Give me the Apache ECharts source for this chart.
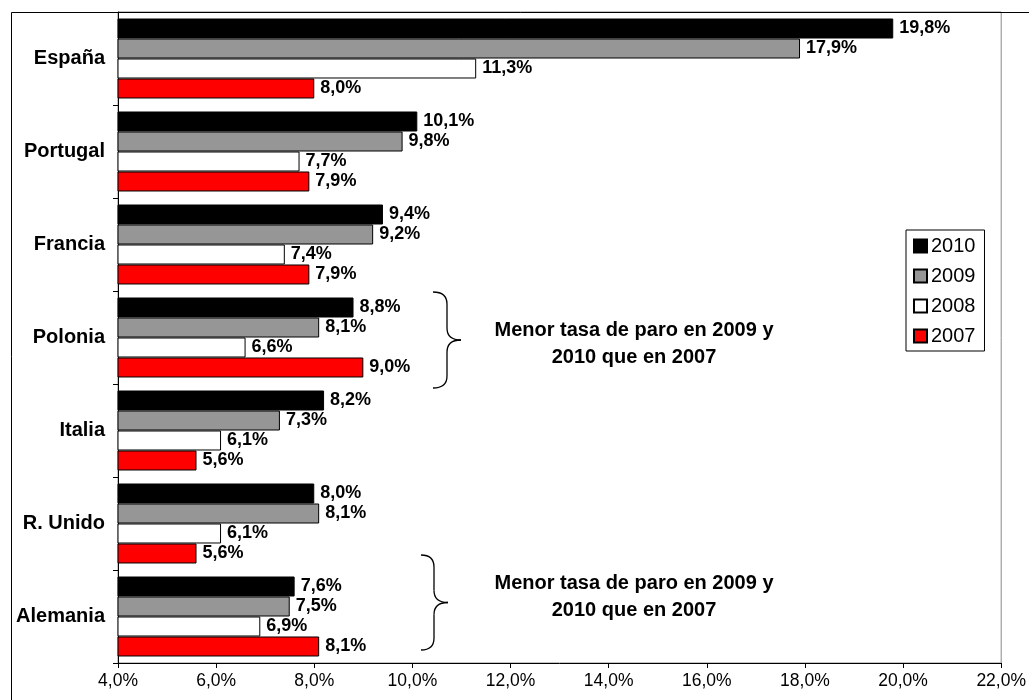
<!DOCTYPE html>
<html>
<head>
<meta charset="utf-8">
<script src="https://cdn.jsdelivr.net/npm/echarts@6/dist/echarts.min.js"></script>
<style>
  html, body { margin: 0; padding: 0; background: #fff; }
  #chart { width: 1029px; height: 700px; }
</style>
</head>
<body>
<div id="chart"></div>
<script>
var paises = ['España', 'Portugal', 'Francia', 'Polonia', 'Italia', 'R. Unido', 'Alemania'];
var paro2010 = [19.8, 10.1, 9.4, 8.8, 8.2, 8.0, 7.6];
var paro2009 = [17.9, 9.8, 9.2, 8.1, 7.3, 8.1, 7.5];
var paro2008 = [11.3, 7.7, 7.4, 6.6, 6.1, 6.1, 6.9];
var paro2007 = [8.0, 7.9, 7.9, 9.0, 5.6, 5.6, 8.1];
var ejeMin = 4, ejeMax = 22, ejePaso = 2;
var nota = 'Menor tasa de paro en 2009 y\n2010 que en 2007';

function pct(v) {
  return v.toFixed(1).replace('.', ',') + '%';
}

/* llave "}" hecha de curvas y rectas */
function llave(x0, xb, xt, yt, yb) {
  var ym = (yt + yb) / 2, r = 12;
  var st = { fill: 'none', stroke: '#000', lineWidth: 1.3 };
  function curva(x1, y1, cx, cy, x2, y2) {
    return { type: 'bezierCurve', shape: { x1: x1, y1: y1, cpx1: cx, cpy1: cy, x2: x2, y2: y2 }, style: st };
  }
  function recta(x1, y1, x2, y2) {
    return { type: 'line', shape: { x1: x1, y1: y1, x2: x2, y2: y2 }, style: st };
  }
  return {
    type: 'group', z: 100, silent: true,
    children: [
      curva(x0, yt, xb, yt, xb, yt + r),
      recta(xb, yt + r, xb, ym - r),
      curva(xb, ym - r, xb, ym, xt, ym),
      curva(xt, ym, xb, ym, xb, ym + r),
      recta(xb, ym + r, xb, yb - r),
      curva(xb, yb - r, xb, yb, x0, yb)
    ]
  };
}

function texto(x, y, t) {
  return { type: 'text', z: 100, silent: true,
    style: { x: x, y: y, text: t, textAlign: 'center', textVerticalAlign: 'middle',
      font: 'bold 20px "Liberation Sans"', fill: '#000', lineHeight: 27 } };
}

function serie(nombre, datos, color) {
  return {
    name: nombre,
    type: 'bar',
    data: datos,
    barGap: '0%',
    barCategoryGap: '14%',
    itemStyle: { color: color, borderColor: '#000', borderWidth: 1 },
    label: {
      show: true,
      position: 'right',
      distance: 6,
      color: '#000',
      fontFamily: 'Liberation Sans',
      fontWeight: 'bold',
      fontSize: 18,
      formatter: function (p) { return pct(p.value); }
    }
  };
}

var chart = echarts.init(document.getElementById('chart'));
chart.setOption({
  animation: false,
  textStyle: { fontFamily: 'Liberation Sans' },
  grid: { left: 118, top: 12, right: 19, bottom: 37, show: true, borderColor: '#888', borderWidth: 1 },
  legend: {
    orient: 'vertical',
    left: 906, top: 230,
    padding: [6, 9, 5, 7],
    itemWidth: 13, itemHeight: 13, itemGap: 10,
    borderColor: '#000', borderWidth: 1,
    icon: 'rect',
    textStyle: { fontSize: 20, color: '#000', padding: [0, 0, 0, -1] },
    data: ['2010', '2009', '2008', '2007']
  },
  xAxis: {
    type: 'value',
    min: ejeMin, max: ejeMax, interval: ejePaso,
    axisLine: { show: true, lineStyle: { color: '#000' } },
    axisTick: { show: true, length: 5, lineStyle: { color: '#000' } },
    splitLine: { show: false },
    axisLabel: { color: '#000', fontSize: 17.5, margin: 9, formatter: pct }
  },
  yAxis: {
    type: 'category',
    data: paises,
    inverse: true,
    axisLine: { lineStyle: { color: '#000' } },
    axisTick: { show: true, length: 5, lineStyle: { color: '#000' } },
    axisLabel: { color: '#000', fontSize: 20, fontWeight: 'bold', margin: 13 }
  },
  series: [
    serie('2010', paro2010, '#000000'),
    serie('2009', paro2009, '#969696'),
    serie('2008', paro2008, '#ffffff'),
    serie('2007', paro2007, '#ff0000')
  ],
  graphic: [
    { type: 'rect', z: 100, silent: true, shape: { x: 11.5, y: 12.5, width: 1100, height: 1000 },
      style: { fill: 'none', stroke: '#000', lineWidth: 1 } },
    llave(433, 447, 461, 292, 388),
    llave(421, 434, 448, 555, 650),
    texto(634, 344, nota),
    texto(634, 597, nota)
  ]
});
</script>
</body>
</html>
